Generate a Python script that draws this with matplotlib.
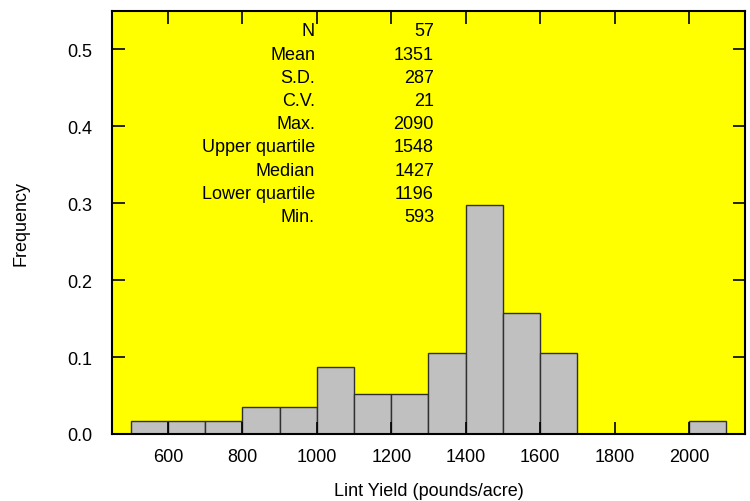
import matplotlib
matplotlib.use('Agg')
import matplotlib.pyplot as plt

# histogram of lint yield, bins of 100 lb/acre
bin_left = [500, 600, 700, 800, 900, 1000, 1100, 1200, 1300, 1400,
            1500, 1600, 1700, 1800, 1900, 2000]
counts = [1, 1, 1, 2, 2, 5, 3, 3, 6, 17, 9, 6, 0, 0, 0, 1]
n_obs = 57

stat_names = ['N', 'Mean', 'S.D.', 'C.V.', 'Max.', 'Upper quartile',
              'Median', 'Lower quartile', 'Min.']
stat_values = ['57', '1351', '287', '21', '2090', '1548', '1427', '1196', '593']

x_ticks = [600, 800, 1000, 1200, 1400, 1600, 1800, 2000]
y_ticks = [0.0, 0.1, 0.2, 0.3, 0.4, 0.5]

plt.rcParams['font.family'] = ['Liberation Sans', 'DejaVu Sans']

fig = plt.figure(figsize=(7.5, 5.02), dpi=100)
ax = fig.add_axes([112 / 750, 1 - 435 / 502, 633 / 750, 423 / 502])
ax.set_facecolor('#ffff00')

freq = [c / n_obs for c in counts]
ax.bar(bin_left, freq, width=100, align='edge', color='#c0c0c0',
       edgecolor='#303030', linewidth=1.0)

ax.set_xlim(450, 2150)
ax.set_ylim(0, 0.55)
ax.set_xticks(x_ticks)
ax.set_yticks(y_ticks)
ax.set_yticklabels([f'{v:.1f}' for v in y_ticks])

ax.tick_params(direction='in', length=9, width=1.2, top=True, right=True,
               labelsize=13, colors='black')
ax.tick_params(axis='y', pad=14)
ax.tick_params(axis='x', pad=10)
for sp in ax.spines.values():
    sp.set_linewidth(1.5)

ax.set_xlabel('Lint Yield (pounds/acre)', fontsize=13, labelpad=12)
ax.set_ylabel('Frequency', fontsize=13, labelpad=27)

# summary statistics block
y0 = 32
step = 23.2
for i, (name, val) in enumerate(zip(stat_names, stat_values)):
    yy = 1 - (y0 + i * step) / 502
    fig.text(315 / 750, yy, name, ha='right', va='center', fontsize=13)
    fig.text(434 / 750, yy, val, ha='right', va='center', fontsize=13)

plt.savefig('out.png', dpi=100)
